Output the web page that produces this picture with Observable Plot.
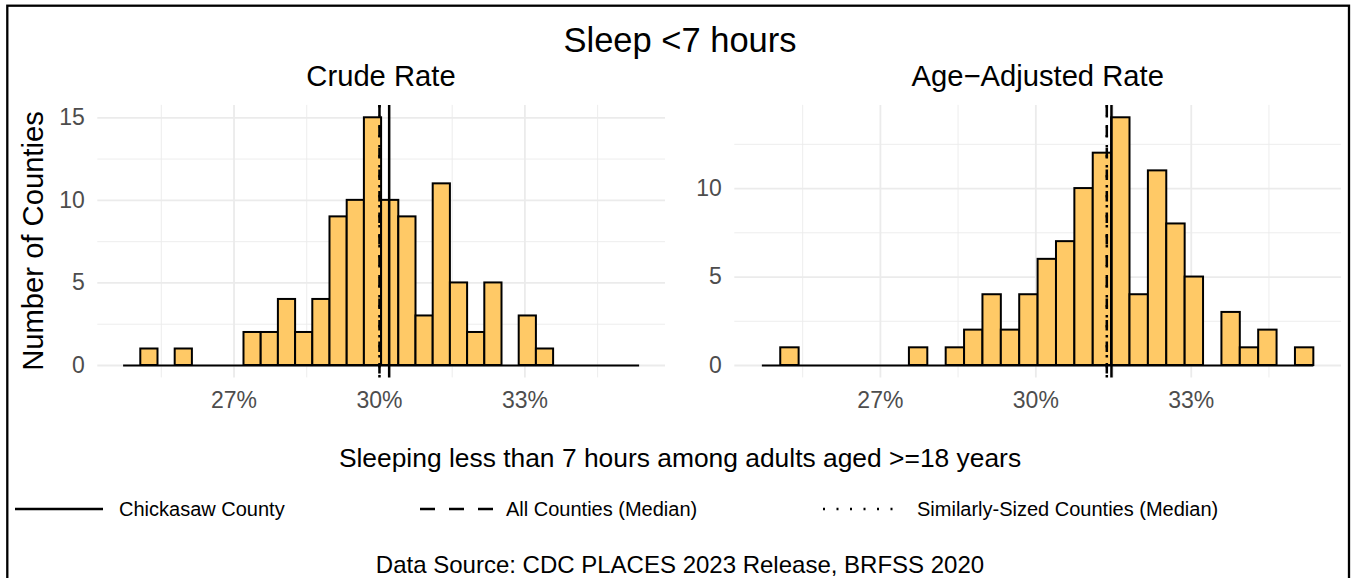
<!DOCTYPE html>
<html><head><meta charset="utf-8">
<script src="https://cdn.jsdelivr.net/npm/d3@7"></script>
<script src="https://cdn.jsdelivr.net/npm/@observablehq/plot@0.6"></script>
<style>
body{margin:0;background:#fff;}
#wrap{position:relative;width:1353px;height:578px;overflow:hidden;background:#fff;font-family:"Liberation Sans",Arial,sans-serif;}
#wrap svg{position:absolute;}
</style></head><body><div id="wrap"></div>
<script>
// ---- data ----
const binStart = 24.722;
const binWidth = 0.3548;
const crudeCounts = [0,1,0,1,0,0,0,2,2,4,2,4,9,10,15,10,9,3,11,5,2,5,0,3,1,0,0,0,0,0];
const adjustedCounts = [0,1,0,0,0,0,0,0,1,0,1,2,4,2,4,6,7,10,12,14,4,11,8,5,0,3,1,2,0,1];
const xTicks = [27, 30, 33];
const xMinorTicks = [25.5, 28.5, 31.5, 34.5];
const crudeYTicks = [0, 5, 10, 15];
const crudeYMinor = [2.5, 7.5, 12.5];
const adjYTicks = [0, 5, 10];
const adjYMinor = [2.5, 7.5, 12.5];
const crudeChickasaw = 30.2;
const crudeAllMedian = 30.0;
const crudeSimilarMedian = 30.0;
const adjChickasaw = 31.46;
const adjAllMedian = 31.37;
const adjSimilarMedian = 31.37;
const mainTitle = "Sleep <7 hours";
const panelTitles = ["Crude Rate", "Age\u2212Adjusted Rate"];
const xTitle = "Sleeping less than 7 hours among adults aged >=18 years";
const yTitle = "Number of Counties";
const legendLabels = ["Chickasaw County", "All Counties (Median)", "Similarly-Sized Counties (Median)"];
const caption = "Data Source: CDC PLACES 2023 Release, BRFSS 2020";

const FONT = '"Liberation Sans", Arial, sans-serif';
const nBins = crudeCounts.length;
const xDomain = [24.19, 35.9];

function panel(counts, yDomain, yTicks, yMinor, county, allMed, simMed, o) {
  const bins = counts.map((c, i) => ({x1: binStart + i * binWidth, x2: binStart + (i + 1) * binWidth, n: c}));
  const grid = {stroke: "#EBEBEB", strokeOpacity: 1};
  const svg = Plot.plot({
    width: o.width, height: o.height,
    marginLeft: o.ml, marginRight: o.mr, marginTop: o.mt, marginBottom: o.mb,
    x: {domain: xDomain},
    y: {domain: yDomain},
    style: {fontFamily: FONT, fontSize: "23px", background: "transparent", overflow: "visible"},
    marks: [
      Plot.gridX(xMinorTicks, {...grid, strokeWidth: 0.9}),
      Plot.gridY(yMinor, {...grid, strokeWidth: 0.9}),
      Plot.gridX(xTicks, {...grid, strokeWidth: 1.8}),
      Plot.gridY(yTicks, {...grid, strokeWidth: 1.8}),
      Plot.ruleY([0], {x1: binStart, x2: binStart + nBins * binWidth, stroke: "black", strokeWidth: 2}),
      Plot.rect(bins.filter(d => d.n > 0), {x1: "x1", x2: "x2", y1: 0, y2: "n", fill: "#FFC966", stroke: "black", strokeWidth: 2}),
      Plot.ruleX([simMed], {stroke: "black", strokeWidth: 2.5, strokeDasharray: "2.5,7.5"}),
      Plot.ruleX([allMed], {stroke: "black", strokeWidth: 2.5, strokeDasharray: "10.5,11"}),
      Plot.ruleX([county], {stroke: "black", strokeWidth: 2.5}),
      Plot.axisX(xTicks, {tickFormat: d => d + "%", tickSize: 0, tickPadding: 14, fill: "#4D4D4D", fontSize: 23, label: null}),
      Plot.axisY(yTicks, {tickSize: 0, tickPadding: 13, fill: "#4D4D4D", fontSize: 23, label: null})
    ]
  });
  svg.style.left = o.left + "px";
  svg.style.top = o.top + "px";
  return svg;
}

const wrap = document.getElementById("wrap");
wrap.appendChild(panel(crudeCounts, [-0.75, 15.75], crudeYTicks, crudeYMinor,
  crudeChickasaw, crudeAllMedian, crudeSimilarMedian,
  {left: 0, top: 95, width: 676, height: 335, ml: 97.3, mr: 11, mt: 9.9, mb: 52.6}));
wrap.appendChild(panel(adjustedCounts, [-0.7, 14.7], adjYTicks, adjYMinor,
  adjChickasaw, adjAllMedian, adjSimilarMedian,
  {left: 676, top: 95, width: 677, height: 335, ml: 58.3, mr: 12, mt: 9.9, mb: 52.6}));

// ---- overlay: titles, legend, caption, border ----
const ov = d3.create("svg").attr("width", 1353).attr("height", 578)
  .style("left", "0px").style("top", "0px").style("font-family", FONT);
function txt(x, y, s, size, anchor, fill) {
  return ov.append("text").attr("x", x).attr("y", y).attr("font-size", size)
    .attr("text-anchor", anchor || "middle").attr("fill", fill || "black").text(s);
}
txt(680, 52, mainTitle, 34.5);
txt(381, 86, panelTitles[0], 29.2);
txt(1037.7, 86, panelTitles[1], 29.2);
ov.append("text").attr("transform", "translate(43,241) rotate(-90)")
  .attr("font-size", 29.2).attr("text-anchor", "middle").attr("fill", "black").text(yTitle);
txt(680, 467, xTitle, 26.4);

const legY = 509;
const legend = [
  {x1: 15, x2: 103, tx: 119, dash: null, label: legendLabels[0]},
  {x1: 420, x2: 493, tx: 506, dash: "15,14", label: legendLabels[1]},
  {x1: 823, x2: 902, tx: 917, dash: "2,11.5", label: legendLabels[2]}
];
legend.forEach(l => {
  const ln = ov.append("line").attr("x1", l.x1).attr("x2", l.x2).attr("y1", legY).attr("y2", legY)
    .attr("stroke", "black").attr("stroke-width", 2.5);
  if (l.dash) ln.attr("stroke-dasharray", l.dash);
  txt(l.tx, legY + 7, l.label, 20, "start");
});
txt(680, 573, caption, 24);
ov.append("rect").attr("x", 7.3).attr("y", 5.7).attr("width", 1341.7).attr("height", 620)
  .attr("fill", "none").attr("stroke", "black").attr("stroke-width", 2.3);
wrap.appendChild(ov.node());
</script></body></html>
